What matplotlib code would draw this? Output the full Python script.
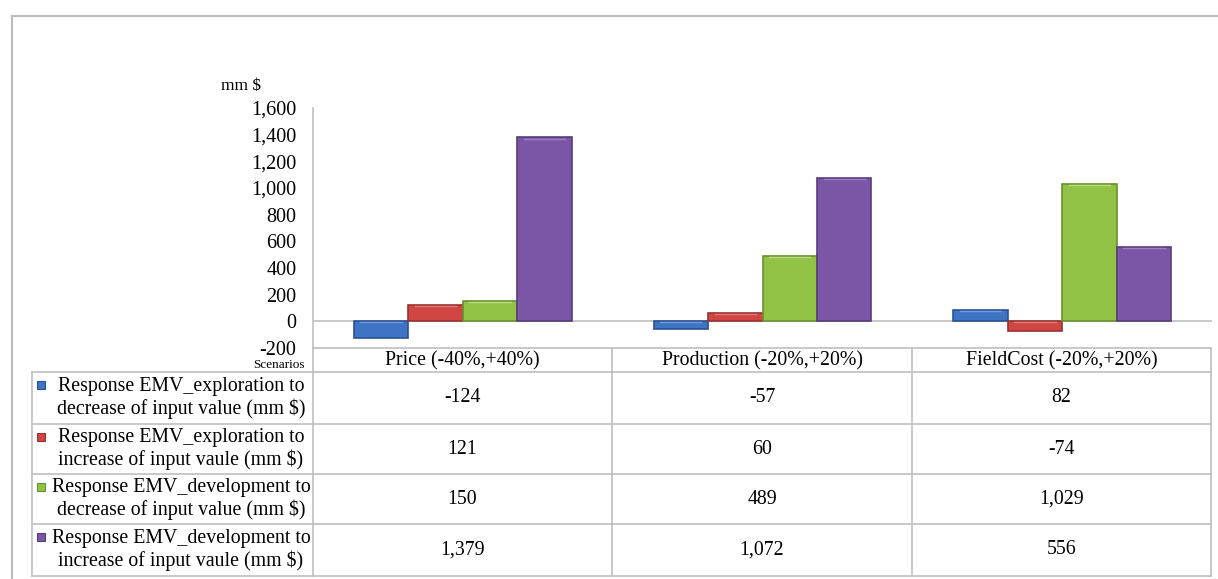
import matplotlib
matplotlib.use("Agg")
import matplotlib.pyplot as plt
from matplotlib.lines import Line2D
from matplotlib.patches import Rectangle
import numpy as np

categories = ["Price (-40%,+40%)", "Production (-20%,+20%)", "FieldCost (-20%,+20%)"]
series_names = [
    "Response EMV_exploration to\ndecrease of input value (mm $)",
    "Response EMV_exploration to\nincrease of input vaule (mm $)",
    "Response EMV_development to\ndecrease of input value (mm $)",
    "Response EMV_development to\nincrease of input vaule (mm $)",
]
expl_decrease = [-124, -57, 82]
expl_increase = [121, 60, -74]
dev_decrease = [150, 489, 1029]
dev_increase = [1379, 1072, 556]
series_values = [expl_decrease, expl_increase, dev_decrease, dev_increase]
yticks = [-200, 0, 200, 400, 600, 800, 1000, 1200, 1400, 1600]

colors = ["#3F74C4", "#CF4643", "#92C245", "#7B56A6"]
edges = ["#2B5293", "#973230", "#6A9030", "#563C7A"]
highlights = ["#7FA6E0", "#E88A87", "#C3E38A", "#A98ACC"]

W, H = 1218, 579
plt.rcParams['font.family'] = ['Liberation Serif', 'DejaVu Serif']
fig = plt.figure(figsize=(W / 100, H / 100), dpi=100)

def fx(x):
    return x / W

def fy(y):
    return 1 - y / H

FS = 14.3

# axes placement (pixels)
axL, axR, axT, axB = 313, 1212, 108, 348
ax = fig.add_axes([fx(axL), fy(axB), fx(axR) - fx(axL), fy(axT) - fy(axB)])
ax.set_xlim(-0.5, 2.5)
ax.set_ylim(-200, 1600)
ax.set_yticks(yticks)
ax.set_yticklabels([f"{v:,}" for v in yticks], fontsize=14.5)
ax.tick_params(axis='y', length=0, pad=12)
ax.set_xticks([])
for s in ["top", "right", "bottom"]:
    ax.spines[s].set_visible(False)
ax.spines["left"].set_color("#BFBFBF")
ax.spines["left"].set_linewidth(1.2)
ax.axhline(0, color="#BFBFBF", lw=1.2, zorder=1)

n = len(series_values)
bw = 1 / (n + 1.5)
x = np.arange(len(categories))
for i, vals in enumerate(series_values):
    pos = x + (i - (n - 1) / 2) * bw
    ax.bar(pos, vals, width=bw, color=colors[i], edgecolor=edges[i], linewidth=1.2, zorder=3)
    # subtle bevel highlight near the top edge of each bar
    for p, v in zip(pos, vals):
        hy = v - 8 if v > 0 else -8
        ax.plot([p - bw * 0.38, p + bw * 0.38], [hy, hy],
                color=highlights[i], lw=1.0, alpha=0.8, zorder=4)

fig.text(fx(241), fy(86), "mm $", fontsize=12.5, ha="center", va="center")

# outer chart border
fig.add_artist(Line2D([fx(12), fx(1218)], [fy(16), fy(16)], color="#BBBBBB", lw=1.5))
fig.add_artist(Line2D([fx(12), fx(12)], [fy(16), fy(579)], color="#BBBBBB", lw=1.5))

# data table
grid = "#BFBFBF"
colx = [313, 612, 912, 1211]
rowy = [348, 372, 424, 474, 524, 576]
leftx = 32
fig.add_artist(Line2D([fx(313), fx(1211)], [fy(rowy[0]), fy(rowy[0])], color=grid, lw=1.2))
for y in rowy[1:]:
    fig.add_artist(Line2D([fx(leftx), fx(1211)], [fy(y), fy(y)], color=grid, lw=1.2))
for cx in colx:
    fig.add_artist(Line2D([fx(cx), fx(cx)], [fy(rowy[0]), fy(rowy[-1])], color=grid, lw=1.2))
fig.add_artist(Line2D([fx(leftx), fx(leftx)], [fy(rowy[1]), fy(rowy[-1])], color=grid, lw=1.2))

fig.text(fx(305), fy(365), "Scenarios", fontsize=9.5, ha="right", va="center")
for j, cat in enumerate(categories):
    fig.text(fx((colx[j] + colx[j + 1]) / 2), fy((rowy[0] + rowy[1]) / 2 + 1), cat,
             fontsize=FS, ha="center", va="center")

for i, name in enumerate(series_names):
    top, bot = rowy[i + 1], rowy[i + 2]
    cy = (top + bot) / 2
    fig.text(fx(181), fy(cy), name, fontsize=FS, ha="center", va="center",
             multialignment="center", linespacing=1.15)
    fig.add_artist(Rectangle((fx(37), fy(top + 17)), fx(8), 8 / H,
                             transform=fig.transFigure, facecolor=colors[i],
                             edgecolor=edges[i], lw=0.8))
    for j, v in enumerate(series_values[i]):
        fig.text(fx((colx[j] + colx[j + 1]) / 2), fy(cy), f"{v:,}",
                 fontsize=FS, ha="center", va="center")

fig.savefig("out.png", dpi=100, facecolor="white")
